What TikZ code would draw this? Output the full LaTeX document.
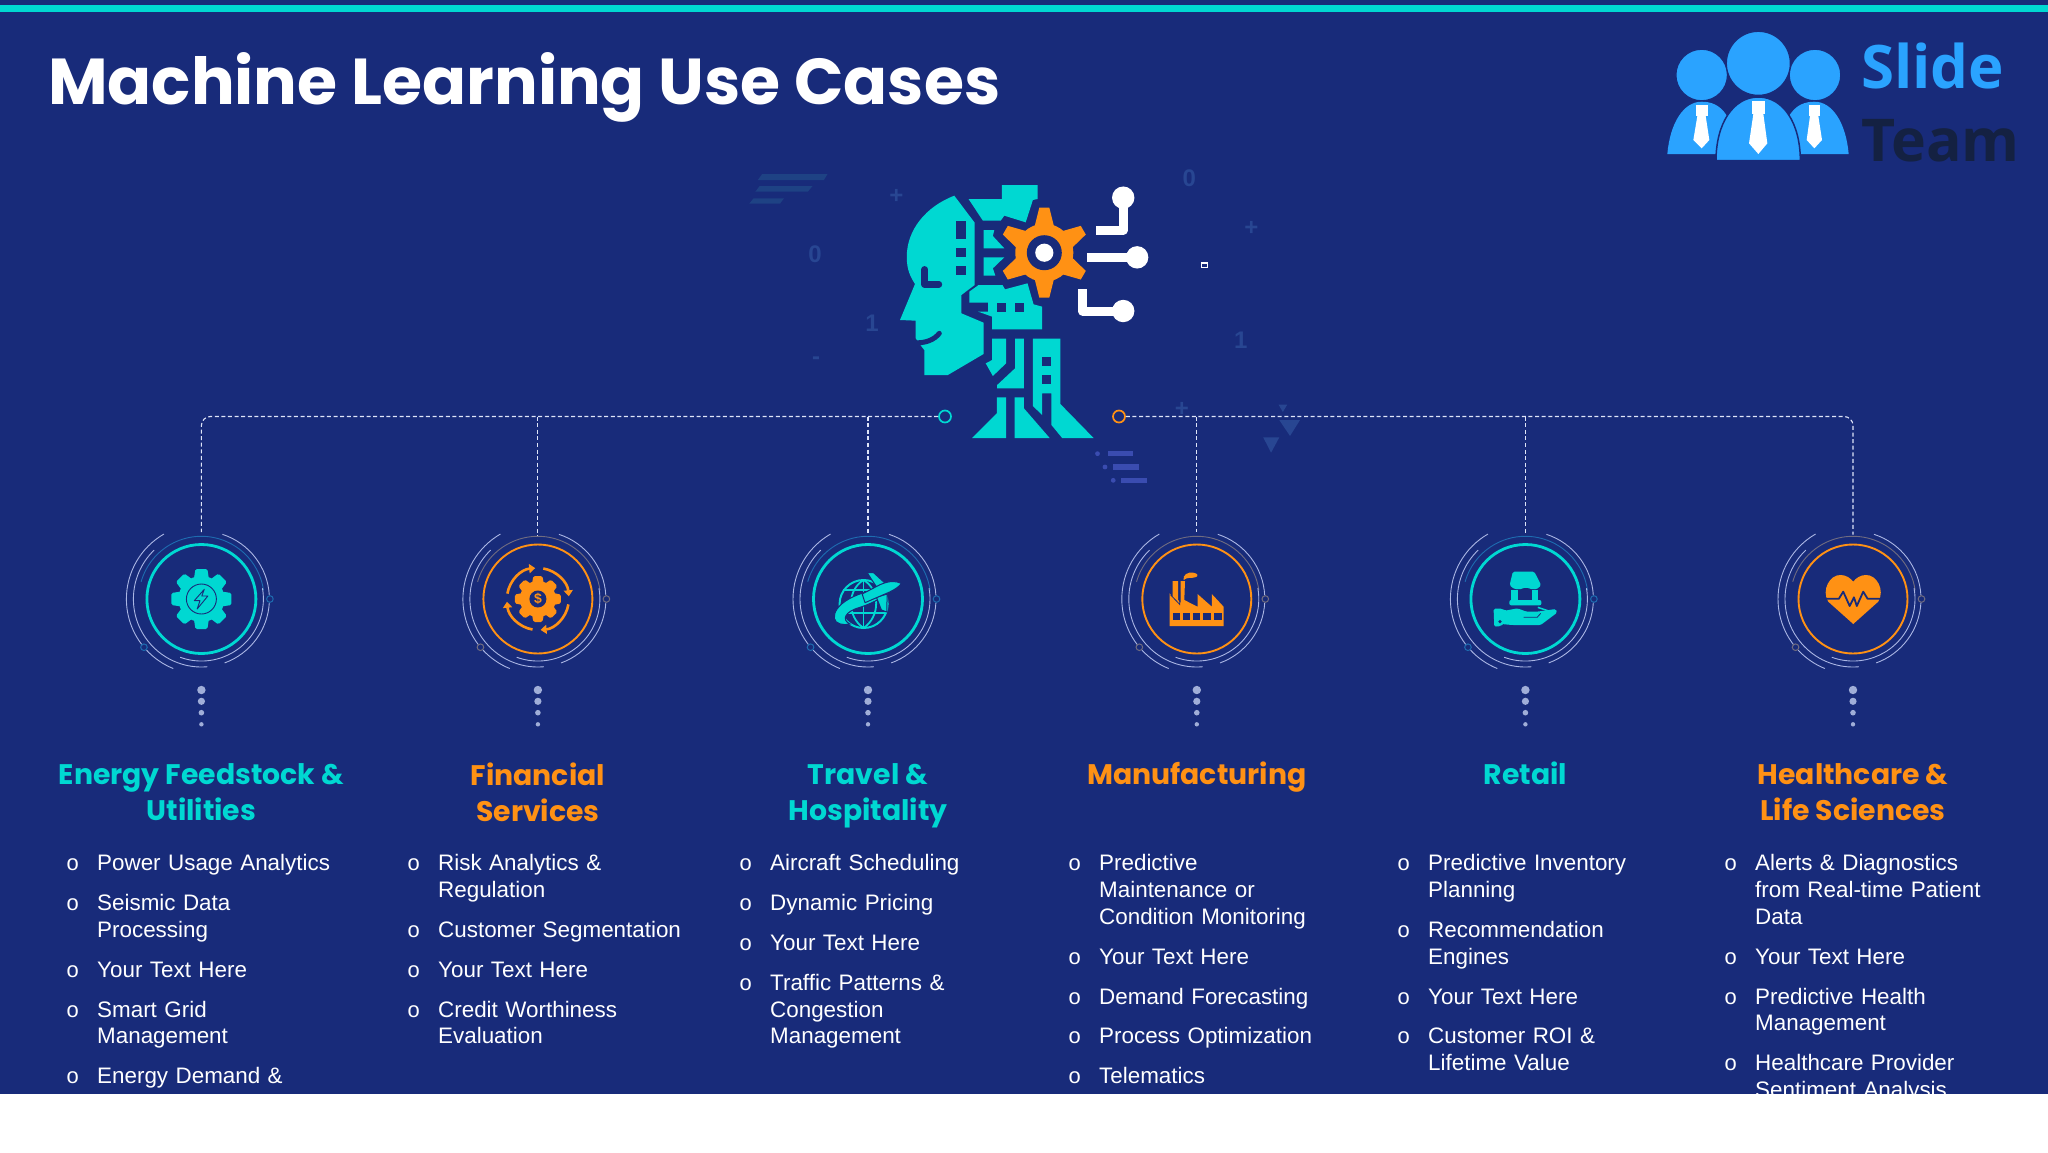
\documentclass[tikz,border=0pt]{standalone}
\usepackage{fontspec}
\setmainfont{Liberation Sans}
\newfontfamily\headfont{Poppins}
\newfontfamily\logofont{Open Sans}
\newfontfamily\bulletfont{Liberation Mono}
\usetikzlibrary{positioning, arrows.meta}
\definecolor{slidebg}{RGB}{24,43,122}
\definecolor{tealc}{RGB}{0,216,210}
\definecolor{orangec}{RGB}{255,145,20}
\definecolor{tealtint}{RGB}{30,108,176}
\definecolor{orangetint}{RGB}{112,108,128}
\definecolor{arcwhite}{RGB}{170,182,228}
\definecolor{dotgrey}{RGB}{160,174,216}
\definecolor{linkwhite}{RGB}{222,228,248}
\definecolor{logoblue}{RGB}{42,163,255}
\definecolor{logodark}{RGB}{20,33,66}
\definecolor{faintbg}{RGB}{40,70,146}
\definecolor{stripebg}{RGB}{30,66,132}
\definecolor{stripelav}{RGB}{58,76,176}

\newcommand{\itm}[1]{\llap{{\bulletfont\fontsize{22}{22}\selectfont o}\hspace{17.9pt}}\strut #1\strut}

\newcommand{\ringarcs}[2]{
  \draw[arcline, draw=#2] (#1.center) ++(164:62.7pt) arc[start angle=164, end angle=8, radius=62.7pt];
  \draw[arcline] (#1.center) ++(250:62pt) arc[start angle=250, end angle=370, radius=62pt];
  \draw[arcline] (#1.center) ++(120:75pt) arc[start angle=120, end angle=218, radius=75pt];
  \draw[arcline] (#1.center) ++(223:75pt) arc[start angle=223, end angle=248, radius=75pt];
  \draw[arcline] (#1.center) ++(134:68pt) arc[start angle=134, end angle=275, radius=68pt];
  \draw[arcline] (#1.center) ++(72:68pt) arc[start angle=72, end angle=3, radius=68pt];
  \draw[arcline] (#1.center) ++(290:68pt) arc[start angle=290, end angle=357, radius=68pt];
  \draw[draw=#2, line width=1pt] (#1.center) ++(0:68.5pt) circle[radius=3.3pt];
  \draw[draw=#2, line width=1pt] (#1.center) ++(220:75pt) circle[radius=3.3pt];
  \fill[dotgrey] (#1.center) ++(0,91) circle[radius=4.2pt];
  \fill[dotgrey] (#1.center) ++(0,102.3) circle[radius=3.6pt];
  \fill[dotgrey] (#1.center) ++(0,113.7) circle[radius=2.8pt];
  \fill[dotgrey] (#1.center) ++(0,125.3) circle[radius=2.2pt];
}

\newcommand{\gearicon}[5]{
  \fill[#2] (#1.center) circle[radius=#3pt];
  \foreach \a in {0,45,...,315}
    \fill[#2, shift={(#1.center)}, rotate=\a, rounded corners=1.5pt] (#3-3,-#5-1.5) -- (#4,-#5) -- (#4,#5) -- (#3-3,#5+1.5) -- cycle;
}

\tikzset{
  ringc/.style={circle, minimum size=109pt, inner sep=0pt, line width=#1},
  hubc/.style={circle, minimum size=12pt, inner sep=0pt, line width=1.7pt},
  arcline/.style={draw=arcwhite, line width=0.9pt},
  dashlink/.style={draw=linkwhite, line width=1.1pt, dash pattern=on 4pt off 2.6pt},
  headtxt/.style={anchor=north, align=center, inner sep=0pt, execute at begin node=\strut, font=\headfont\bfseries\fontsize{28.3}{36}\selectfont},
  itemtxt/.style={align=left, text width=280pt, inner sep=0pt, text=white, font=\fontsize{22.4}{26.8}\selectfont},
  faintnum/.style={text=faintbg, inner sep=0pt, font=\bfseries\fontsize{24}{24}\selectfont},
  zoomframe/.style n args={2}{shift={(#1,#2)}, x=0.35714pt, y=-0.33333pt},
  node distance=12.6pt
}

\begin{document}
\begin{tikzpicture}[x=1pt, y=-1pt]
\useasboundingbox (0,0) rectangle (2048,1152);
\fill[slidebg] (0,0) rectangle (2048,1152);
\fill[tealc] (0,5) rectangle (2048,12);

\node[anchor=base west, inner sep=0pt, text=white, font=\headfont\bfseries\fontsize{64.9}{65}\selectfont] (title) at (48,104) {Machine Learning Use Cases};

\begin{scope}[shift={(1640,0)}, x=0.33333pt, y=-0.33333pt]
\fill[logoblue] (82,462) .. controls (90,370) and (130,305) .. (185,305) .. controls (230,305) and (250,330) .. (262,350) -- (262,462) -- cycle;
\fill[logoblue] (626,462) .. controls (618,370) and (578,305) .. (523,305) .. controls (478,305) and (458,330) .. (446,350) -- (446,462) -- cycle;
\filldraw[fill=logoblue, draw=slidebg, line width=1.5pt] (228,482) .. controls (228,370) and (280,291) .. (355,291) .. controls (430,291) and (481,370) .. (481,482) -- cycle;
\filldraw[fill=logoblue, draw=slidebg, line width=1.2pt] (185,225) circle[radius=25.8pt];
\filldraw[fill=logoblue, draw=slidebg, line width=1.2pt] (525,225) circle[radius=25.8pt];
\filldraw[fill=logoblue, draw=slidebg, line width=1.2pt] (355,190) circle[radius=32pt];
\fill[white] (168,315) rectangle (203,348);
\fill[white] (172,348) -- (197,348) -- (208,420) -- (185,445) -- (160,420) -- cycle;
\fill[white] (506,315) rectangle (541,348);
\fill[white] (510,348) -- (535,348) -- (546,420) -- (523,445) -- (500,420) -- cycle;
\fill[white] (335,303) rectangle (375,342);
\fill[white] (340,342) -- (370,342) -- (382,430) -- (355,462) -- (327,430) -- cycle;
\end{scope}
\node[anchor=base west, inner sep=0pt, text=logoblue, font=\logofont\bfseries\fontsize{60}{60}\selectfont] (logo1) at (1861,88) {Slide};
\node[anchor=base west, inner sep=0pt, text=logodark, font=\logofont\bfseries\fontsize{59}{59}\selectfont] (logo2) at (1861,161) {Team};

\begin{scope}[zoomframe={740}{150}]
\fill[stripebg] (62,72) -- (245,72) -- (235,90) -- (50,90) -- cycle;
\fill[stripebg] (55,108) -- (203,108) -- (190,125) -- (43,125) -- cycle;
\fill[stripebg] (38,145) -- (123,145) -- (112,161) -- (26,161) -- cycle;
\fill[stripelav] (1030,903) rectangle (1100,919);
\fill[stripelav] (1001,911) circle[radius=2.4pt];
\fill[stripelav] (1045,943) rectangle (1118,960);
\fill[stripelav] (1022,951) circle[radius=2.4pt];
\fill[stripelav] (1068,983) rectangle (1140,999);
\fill[stripelav] (1045,991) circle[radius=2.4pt];
\fill[faintbg] (1465,862) -- (1510,862) -- (1487,908) -- cycle;
\fill[faintbg] (1510,810) -- (1568,810) -- (1540,858) -- cycle;
\fill[faintbg] (1508,764) -- (1532,764) -- (1520,786) -- cycle;
\node[faintnum] (bgzero1) at (210,312) {0};
\node[faintnum] (bgone1) at (370,520) {1};
\node[faintnum] (bgminus) at (213,632) {-};
\node[faintnum] (bgplus1) at (438,140) {+};
\node[faintnum] (bgzero2) at (1258,85) {0};
\node[faintnum] (bgplus2) at (1432,235) {+};
\node[faintnum] (bgone2) at (1402,572) {1};
\node[faintnum] (bgplus3) at (1237,778) {+};
\draw[white, line width=1.1pt] (1291,339) rectangle (1310,352);

\fill[tealc] (600,137) -- (657,218) -- (657,405) -- (620,435) -- (620,490) -- (682,518) -- (682,612) -- (582,675) -- (516,675) -- (516,600) -- (510,592) -- (492,565) -- (492,512) -- (448,510) -- (490,402) .. controls (470,370) and (467,345) .. (467,320) .. controls (467,240) and (520,170) .. (600,137) -- cycle;
\draw[slidebg, line width=5pt, line cap=round] (480,578) .. controls (520,582) and (545,568) .. (558,550);
\draw[slidebg, line width=6.5pt, line cap=round, line join=round] (517,358) -- (517,403) -- (557,403);
\fill[slidebg] (606,213) rectangle (632,268);
\fill[slidebg] (606,295) rectangle (632,322);
\fill[slidebg] (606,349) rectangle (632,376);
\fill[tealc] (640,147) -- (680,212) -- (730,212) -- (740,197) -- (800,217) -- (820,150) -- (833,147) -- (833,105) -- (733,105) -- (733,147) -- cycle;
\fill[tealc] (682,240) -- (712,240) -- (708,258) -- (740,295) -- (682,295) -- cycle;
\fill[tealc] (682,322) -- (740,322) -- (708,355) -- (715,377) -- (682,377) -- cycle;
\fill[tealc] (642,425) -- (668,405) -- (735,405) -- (742,418) -- (805,400) -- (822,463) -- (846,470) -- (846,538) -- (706,538) -- (706,500) -- (667,485) -- (695,485) -- (695,458) -- (642,458) -- cycle;
\fill[slidebg] (720,458) rectangle (745,485);
\fill[slidebg] (770,458) rectangle (795,485);
\fill[tealc] (706,566) -- (745,566) -- (745,640) -- (708,678) -- (688,640) -- (706,630) -- cycle;
\fill[tealc] (770,566) -- (795,566) -- (795,715) -- (720,715) -- (720,705) -- (770,655) -- cycle;
\fill[tealc] (820,566) -- (897,566) -- (897,762) -- (990,864) -- (902,864) -- (872,825) -- (872,730) -- (846,730) -- (846,795) -- (820,768) -- cycle;
\fill[slidebg] (846,620) rectangle (872,648);
\fill[slidebg] (846,675) rectangle (872,702);
\fill[tealc] (719,742) -- (745,742) -- (745,864) -- (650,864) -- (719,790) -- cycle;
\fill[tealc] (769,742) -- (795,742) -- (795,775) -- (867,864) -- (769,864) -- cycle;
\draw[white, line width=9pt, line join=round] (1073,143) -- (1073,240) -- (997,240);
\draw[white, line width=9pt] (972,322) -- (1112,322);
\draw[white, line width=9pt, line join=round] (960,418) -- (960,483) -- (1073,483);
\fill[white] (1073,143) circle[radius=11.2pt];
\fill[white] (1112,322) circle[radius=11.2pt];
\fill[white] (1073,483) circle[radius=11.2pt];
\end{scope}

\begin{scope}[shift={(1044.3,252.7)}]
\fill[orangec] (0,0) circle[radius=29pt];
\foreach \a in {30,90,...,330}
  \fill[orangec, rotate=\a] (25,-10) -- (45,-5) -- (45,5) -- (25,10) -- cycle;
\fill[slidebg] (0,0) circle[radius=17.5pt];
\fill[white] (0,0) circle[radius=9.1pt];
\end{scope}

\node[hubc, draw=tealc] (hubL) at (945,416.5) {};
\node[hubc, draw=orangec] (hubR) at (1119,416.5) {};

\node[ringc=2.8pt, draw=tealc] (ring1) at (201.4,599) {};
\node[ringc=1.9pt, draw=orangec] (ring2) at (537.9,599) {};
\node[ringc=2.8pt, draw=tealc] (ring3) at (868,599) {};
\node[ringc=1.9pt, draw=orangec] (ring4) at (1196.8,599) {};
\node[ringc=2.8pt, draw=tealc] (ring5) at (1525.4,599) {};
\node[ringc=1.9pt, draw=orangec] (ring6) at (1853,599) {};

\draw[dashlink, rounded corners=9pt, shorten >=11pt] (hubL) -| (ring1);
\draw[dashlink, rounded corners=9pt, shorten >=9pt] (hubR) -| (ring6);
\draw[dashlink, shorten >=8pt] (ring2 |- hubL) -- (ring2);
\draw[dashlink, shorten >=10pt] (ring3 |- hubL) -- (ring3);
\draw[dashlink, shorten >=12pt] (ring4 |- hubR) -- (ring4);
\draw[dashlink, shorten >=8pt] (ring5 |- hubR) -- (ring5);

\ringarcs{ring1}{tealtint}
\ringarcs{ring2}{orangetint}
\ringarcs{ring3}{tealtint}
\ringarcs{ring4}{orangetint}
\ringarcs{ring5}{tealtint}
\ringarcs{ring6}{orangetint}

\gearicon{ring1}{tealc}{23}{30}{6}
\draw[slidebg, line width=0.9pt] (ring1.center) circle[radius=15pt];
\begin{scope}[zoomframe={100}{510}]
\draw[slidebg, line width=0.9pt, line join=round] (292,238) -- (264,272) -- (280,272) -- (272,297) -- (302,258) -- (285,258) -- cycle;
\end{scope}

\gearicon{ring2}{orangec}{18}{23}{4.5}
\fill[slidebg] (ring2.center) circle[radius=8.5pt];
\node[inner sep=0pt, text=orangec, font=\bfseries\fontsize{14}{14}\selectfont] (dollar) at (ring2.center) {\$};
\draw[orangec, line width=2.6pt, -{Triangle[length=6pt, width=9pt]}] (ring2.center) ++(170:31pt) arc[start angle=170, end angle=95, radius=31pt];
\draw[orangec, line width=2.6pt, -{Triangle[length=6pt, width=9pt]}] (ring2.center) ++(80:31pt) arc[start angle=80, end angle=5, radius=31pt];
\draw[orangec, line width=2.6pt, -{Triangle[length=6pt, width=9pt]}] (ring2.center) ++(-10:31pt) arc[start angle=-10, end angle=-85, radius=31pt];
\draw[orangec, line width=2.6pt, -{Triangle[length=6pt, width=9pt]}] (ring2.center) ++(-100:31pt) arc[start angle=-100, end angle=-175, radius=31pt];

\begin{scope}[zoomframe={770}{510}]
\draw[tealc, line width=2pt] (262,282) circle[radius=24pt];
\draw[tealc, line width=1.8pt] (262,210) .. controls (215,240) and (215,320) .. (262,354);
\draw[tealc, line width=1.8pt] (262,210) .. controls (309,240) and (309,320) .. (262,354);
\draw[tealc, line width=1.8pt] (262,210) -- (262,354);
\draw[tealc, line width=1.8pt] (205,240) -- (319,240);
\draw[tealc, line width=1.8pt] (198,310) -- (326,310);
\filldraw[fill=tealc, draw=slidebg, line width=1pt] (345,232) .. controls (240,240) and (176,285) .. (180,325) .. controls (183,342) and (205,347) .. (224,342) .. controls (200,330) and (208,305) .. (252,292) .. controls (292,278) and (325,258) .. (345,232) -- cycle;
\filldraw[fill=tealc, draw=slidebg, line width=1pt, line join=round] (272,188) -- (290,188) -- (335,232) -- (310,250) -- cycle;
\filldraw[fill=tealc, draw=slidebg, line width=1pt, line join=round] (298,262) -- (328,252) -- (327,306) -- (312,300) -- cycle;
\filldraw[fill=tealc, draw=slidebg, line width=1pt, line join=round] (368,220) .. controls (350,212) and (335,212) .. (308,224) -- (258,252) -- (266,278) -- (335,246) .. controls (350,238) and (362,230) .. (368,220) -- cycle;

\fill[orangec] (1119,348) -- (1119,250) -- (1127,262) -- (1127,213) -- (1143,213) -- (1143,270) -- (1150,280) -- (1150,213) -- (1162,213) -- (1160,270) -- (1197,290) -- (1197,252) -- (1237,290) -- (1237,252) -- (1270,290) -- (1270,348) -- cycle;
\draw[slidebg, line width=0.8pt] (1122,255) -- (1147,283) -- (1147,245);
\fill[slidebg] (1127,310) rectangle (1147,330);
\fill[slidebg] (1155,310) rectangle (1175,330);
\fill[slidebg] (1183,310) rectangle (1205,330);
\fill[slidebg] (1213,310) rectangle (1235,330);
\fill[slidebg] (1243,310) rectangle (1265,330);
\fill[orangec] (1158,210) .. controls (1155,195) and (1170,185) .. (1185,188) .. controls (1200,190) and (1200,200) .. (1190,202) .. controls (1178,206) and (1170,200) .. (1158,210) -- cycle;
\end{scope}

\begin{scope}[zoomframe={1430}{510}]
\fill[tealc, rounded corners=1.5pt] (232,185) -- (292,185) -- (311,225) .. controls (300,240) and (290,240) .. (268,232) .. controls (250,240) and (235,240) .. (223,225) -- cycle;
\fill[tealc] (228,240) rectangle (245,272);
\fill[tealc] (285,240) rectangle (302,272);
\fill[tealc, rounded corners=2pt] (222,270) rectangle (312,286);
\fill[tealc, rounded corners=1.5pt] (178,296) -- (202,296) -- (210,302) -- (245,295) -- (270,305) -- (300,305) -- (352,297) -- (356,308) -- (310,345) -- (230,345) -- (200,342) -- (200,348) -- (180,350) -- cycle;
\draw[slidebg, line width=0.8pt] (262,322) -- (300,322) -- (310,310);
\draw[tealc, line width=1.5pt] (302,292) -- (330,302);
\fill[slidebg] (196,335) circle[radius=1.8pt];

\fill[orangec] (1185,342) -- (1115,275) .. controls (1095,240) and (1120,193) .. (1150,195) .. controls (1165,195) and (1178,205) .. (1185,215) .. controls (1192,205) and (1205,195) .. (1220,195) .. controls (1250,193) and (1275,240) .. (1255,275) -- cycle;
\draw[slidebg, line width=1.8pt, line join=round] (1108,266) -- (1145,266) -- (1157,245) -- (1175,288) -- (1187,262) -- (1195,288) -- (1213,245) -- (1225,266) -- (1262,266);
\end{scope}

\coordinate (headline) at (0,763);
\coordinate (headsingle) at (0,759.3);
\node[headtxt, text=tealc] (head1) at (ring1 |- headline) {Energy Feedstock \&\\Utilities};
\node[headtxt, text=orangec] (head2) at (ring2 |- headline) {Financial\\Services};
\node[headtxt, text=tealc] (head3) at (ring3 |- headline) {Travel \&\\Hospitality};
\node[headtxt, text=orangec] (head4) at (ring4 |- headsingle) {Manufacturing};
\node[headtxt, text=tealc] (head5) at (ring5 |- headsingle) {Retail};
\node[headtxt, text=orangec] (head6) at (ring6 |- headline) {Healthcare \&\\Life Sciences};

\node[itemtxt, anchor=north west] (a1) at (97,852) {\itm{Power Usage Analytics}};
\node[itemtxt, below=of a1] (a2) {\itm{Seismic Data\\Processing}};
\node[itemtxt, below=of a2] (a3) {\itm{Your Text Here}};
\node[itemtxt, below=of a3] (a4) {\itm{Smart Grid\\Management}};
\node[itemtxt, below=of a4] (a5) {\itm{Energy Demand \&}};

\node[itemtxt, anchor=north west] (b1) at (438,852) {\itm{Risk Analytics \&\\Regulation}};
\node[itemtxt, below=of b1] (b2) {\itm{Customer Segmentation}};
\node[itemtxt, below=of b2] (b3) {\itm{Your Text Here}};
\node[itemtxt, below=of b3] (b4) {\itm{Credit Worthiness\\Evaluation}};

\node[itemtxt, anchor=north west] (c1) at (770,852) {\itm{Aircraft Scheduling}};
\node[itemtxt, below=of c1] (c2) {\itm{Dynamic Pricing}};
\node[itemtxt, below=of c2] (c3) {\itm{Your Text Here}};
\node[itemtxt, below=of c3] (c4) {\itm{Traffic Patterns \&\\Congestion\\Management}};

\node[itemtxt, anchor=north west] (d1) at (1099,852) {\itm{Predictive\\Maintenance or\\Condition Monitoring}};
\node[itemtxt, below=of d1] (d2) {\itm{Your Text Here}};
\node[itemtxt, below=of d2] (d3) {\itm{Demand Forecasting}};
\node[itemtxt, below=of d3] (d4) {\itm{Process Optimization}};
\node[itemtxt, below=of d4] (d5) {\itm{Telematics}};

\node[itemtxt, anchor=north west] (e1) at (1428,852) {\itm{Predictive Inventory\\Planning}};
\node[itemtxt, below=of e1] (e2) {\itm{Recommendation\\Engines}};
\node[itemtxt, below=of e2] (e3) {\itm{Your Text Here}};
\node[itemtxt, below=of e3] (e4) {\itm{Customer ROI \&\\Lifetime Value}};

\node[itemtxt, anchor=north west] (f1) at (1755,852) {\itm{Alerts \& Diagnostics\\from Real-time Patient\\Data}};
\node[itemtxt, below=of f1] (f2) {\itm{Your Text Here}};
\node[itemtxt, below=of f2] (f3) {\itm{Predictive Health\\Management}};
\node[itemtxt, below=of f3] (f4) {\itm{Healthcare Provider\\Sentiment Analysis}};

\fill[white] (0,1094) rectangle (2048,1152);
\end{tikzpicture}
\end{document}
